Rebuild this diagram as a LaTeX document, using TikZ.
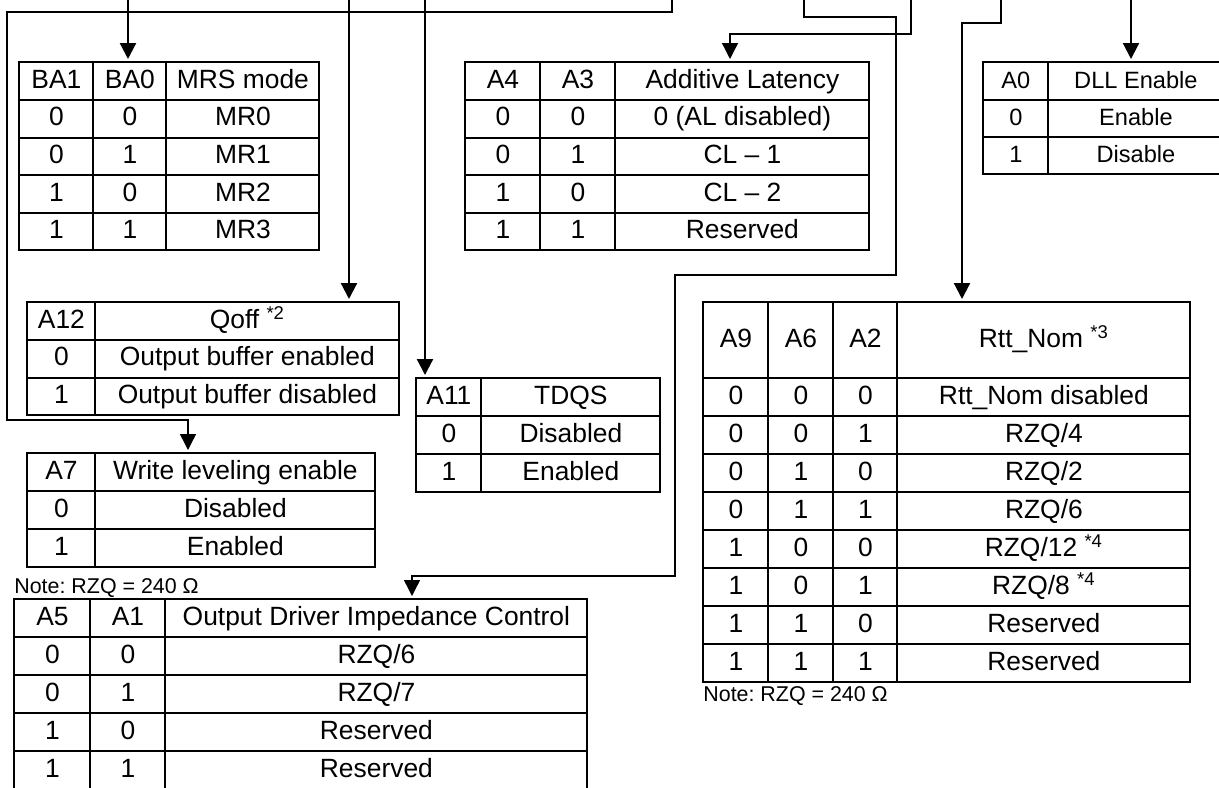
\documentclass[tikz,border=0pt]{standalone}
\usepackage{fontspec}
\setmainfont{Liberation Sans}
\usetikzlibrary{matrix,arrows.meta}

\newcommand{\tabfont}{\fontsize{13.2pt}{15pt}\selectfont}
\newcommand{\dllfont}{\fontsize{11.8pt}{14pt}\selectfont}
\newcommand{\notefont}{\fontsize{10.7pt}{12pt}\selectfont}
\frenchspacing

\begin{document}
\begin{tikzpicture}[
    x=0.5pt,
    y=-0.5pt,
    >={Triangle[width=8pt,length=8pt]},
    tab/.style={
        matrix of nodes,
        inner sep=0pt,
        column sep=-1pt,
        row sep=-1pt,
        anchor=north west,
        nodes={
            draw,
            line width=1pt,
            inner sep=0pt,
            outer sep=0.5pt,
            minimum height=19pt,
            text height=9.6pt,
            text depth=2.6pt,
            font=\tabfont,
            anchor=center
        }
    },
    bigarrow/.style={->,line width=1.1pt,shorten >=1pt},
    smallarrow/.style={->,line width=0.7pt,shorten >=1pt},
    note/.style={font=\notefont,inner sep=0pt,anchor=base west}
]

\useasboundingbox (0,0) rectangle (1219,787);

%------------------------------------------------
% Top row tables
%------------------------------------------------

\matrix[tab,nodes={minimum height=18.8pt},
    column 1/.style={nodes={minimum width=37pt}},
    column 2/.style={nodes={minimum width=36.5pt}},
    column 3/.style={nodes={minimum width=76.5pt}}] (mrs) at (18,61) {
BA1 & BA0 & MRS mode \\
0 & 0 & MR0 \\
0 & 1 & MR1 \\
1 & 0 & MR2 \\
1 & 1 & MR3 \\
};

\matrix[tab,nodes={minimum height=18.8pt},
    column 1/.style={nodes={minimum width=37.5pt}},
    column 2/.style={nodes={minimum width=37.5pt}},
    column 3/.style={nodes={minimum width=127pt}}] (al) at (464,61) {
A4 & A3 & Additive Latency \\
0 & 0 & 0 (AL disabled) \\
0 & 1 & CL \textendash{} 1 \\
1 & 0 & CL \textendash{} 2 \\
1 & 1 & Reserved \\
};

\matrix[tab,nodes={minimum height=18.6pt,font=\dllfont},
    column 1/.style={nodes={minimum width=32.5pt}},
    column 2/.style={nodes={minimum width=87.5pt}}] (dll) at (982,61) {
A0 & DLL Enable \\
0 & Enable \\
1 & Disable \\
};

%------------------------------------------------
% Middle tables
%------------------------------------------------

\matrix[tab,nodes={minimum height=18.8pt},
    column 1/.style={nodes={minimum width=34pt}},
    column 2/.style={nodes={minimum width=152pt}}] (qoff) at (26,301) {
A12 & Qoff \textsuperscript{*2} \\
0 & Output buffer enabled \\
1 & Output buffer disabled \\
};

\matrix[tab,
    column 1/.style={nodes={minimum width=32.5pt}},
    column 2/.style={nodes={minimum width=89.5pt}}] (tdqs) at (415,377) {
A11 & TDQS \\
0 & Disabled \\
1 & Enabled \\
};

\matrix[tab,
    column 1/.style={nodes={minimum width=34pt}},
    column 2/.style={nodes={minimum width=140pt}}] (wl) at (26,452) {
A7 & Write leveling enable \\
0 & Disabled \\
1 & Enabled \\
};

\matrix[tab,
    row 1/.style={nodes={minimum height=38pt}},
    column 1/.style={nodes={minimum width=32.5pt}},
    column 2/.style={nodes={minimum width=32.5pt}},
    column 3/.style={nodes={minimum width=32pt}},
    column 4/.style={nodes={minimum width=146.5pt}}] (rtt) at (702,301) {
A9 & A6 & A2 & Rtt\_Nom \textsuperscript{*3} \\
0 & 0 & 0 & Rtt\_Nom disabled \\
0 & 0 & 1 & RZQ/4 \\
0 & 1 & 0 & RZQ/2 \\
0 & 1 & 1 & RZQ/6 \\
1 & 0 & 0 & RZQ/12 \textsuperscript{*4} \\
1 & 0 & 1 & RZQ/8 \textsuperscript{*4} \\
1 & 1 & 0 & Reserved \\
1 & 1 & 1 & Reserved \\
};

\node[note] (rttnote) at (703,701) {Note: RZQ = 240 Ω};

%------------------------------------------------
% Bottom table
%------------------------------------------------

\node[note] (odicnote) at (14,593) {Note: RZQ = 240 Ω};

\matrix[tab,
    column 1/.style={nodes={minimum width=38pt}},
    column 2/.style={nodes={minimum width=37.5pt}},
    column 3/.style={nodes={minimum width=211pt}}] (odic) at (13,598) {
A5 & A1 & Output Driver Impedance Control \\
0 & 0 & RZQ/6 \\
0 & 1 & RZQ/7 \\
1 & 0 & Reserved \\
1 & 1 & Reserved \\
};

%------------------------------------------------
% Connectors
%------------------------------------------------

\coordinate (inmrs) at (128,0);
\coordinate (inqoff) at (349,0);
\coordinate (intdqs) at (425,0);
\coordinate (inwl) at (672,0);
\coordinate (inodic) at (804,0);
\coordinate (inal) at (911,0);
\coordinate (inrtt) at (1001,0);
\coordinate (indll) at (1131,0);

\coordinate (wlbend) at (188,420);
\coordinate (odicbend) at (412,576);
\coordinate (albend) at (730,34);
\coordinate (rttbend) at (962,23);

\draw[bigarrow] (inmrs) -- (inmrs |- mrs.north);
\draw[bigarrow] (inqoff) -- (inqoff |- qoff.north);
\draw[bigarrow] (intdqs) -- (intdqs |- tdqs.north);
\draw[bigarrow] (indll) -- (indll |- dll.north);

\draw[smallarrow] (inwl) |- (7,12) |- (wlbend) -- (wlbend |- wl.north);
\draw[smallarrow] (inodic) -- ++(0,17) -| (896,275) -- (675,275)
    |- (odicbend) -- (odicbend |- odic.north);
\draw[smallarrow] (inal) |- (albend) -- (albend |- al.north);
\draw[bigarrow] (inrtt) |- (rttbend) -- (rttbend |- rtt.north);

\end{tikzpicture}
\end{document}
